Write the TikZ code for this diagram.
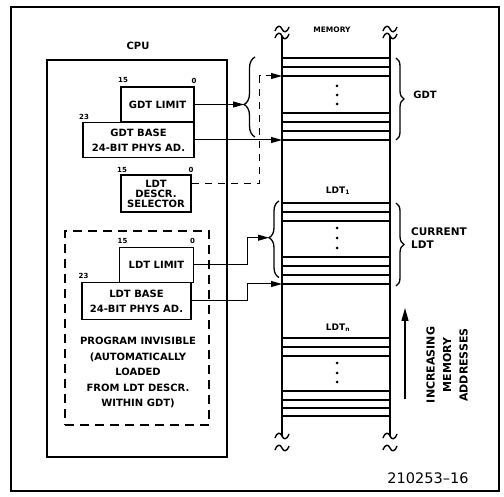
\documentclass[tikz,border=0pt]{standalone}
\usepackage{fontspec}
\setmainfont{DejaVu Sans}
\usetikzlibrary{arrows.meta,decorations.pathreplacing}
\tikzset{
  reg/.style={draw, line width=1.7pt, inner sep=0pt, align=center,
              font=\bfseries\fontsize{10}{15}\selectfont},
  bitno/.style={inner sep=0pt, font=\bfseries\fontsize{7}{7}\selectfont},
  lbl/.style={inner sep=0pt, align=center, font=\bfseries\fontsize{10}{12}\selectfont},
  ptr/.style={line width=1pt, -{Triangle[length=11pt,width=6pt]}},
  selptr/.style={ptr, dash pattern=on 7pt off 6pt},
  uparr/.style={line width=1.3pt, -{Triangle[length=13pt,width=7pt]}},
  memline/.style={line width=1.7pt},
  lbrace/.style={decorate, line width=1.3pt},
  wave/.pic={\draw[line width=1.4pt] (-7,2) .. controls (-4.5,-4.5) and (-1.5,-3.5) .. (0,0)
                 .. controls (1.5,3.5) and (4.5,4.5) .. (7,-2);},
}
\begin{document}
\begin{tikzpicture}[x=1pt, y=-1pt]
  \useasboundingbox (0,0) rectangle (504,497);
  % frame and cpu
  \draw[line width=1.6pt] (11,7) rectangle (499,491);
  \node[draw, line width=1.7pt, minimum width=180, minimum height=397] (cpu) at (137,258.5) {};
  \node[lbl] (cpulbl) at (138,46) {CPU};
  \node[draw, line width=1.3pt, dash pattern=on 9pt off 6pt,
        minimum width=144, minimum height=194] (invis) at (137,328) {};
  % registers
  \node[reg, minimum width=73, minimum height=35]  (gdtlim)  at (157.5,104.5) {GDT LIMIT};
  \node[reg, minimum width=111, minimum height=35] (gdtbase) at (138.5,140) {GDT BASE\\24-BIT PHYS AD.};
  \node[reg, minimum width=70, minimum height=37, font=\bfseries\fontsize{10}{10}\selectfont]
        (seldesc) at (156,193.5) {LDT\\DESCR.\\SELECTOR};
  \node[reg, minimum width=74, minimum height=35]  (ldtlim)  at (156.5,265) {LDT LIMIT};
  \node[reg, minimum width=109, minimum height=37] (ldtbase) at (136.5,301) {LDT BASE\\24-BIT PHYS AD.};
  \node[lbl, font=\bfseries\fontsize{10}{15.5}\selectfont] (invislbl) at (138,372.5)
        {PROGRAM INVISIBLE\\(AUTOMATICALLY\\LOADED\\FROM LDT DESCR.\\WITHIN GDT)};
  % bit numbers
  \node[bitno] (g15) at (123,80) {15};
  \node[bitno] (g0)  at (194,80.5) {0};
  \node[bitno] (g23) at (84,116.5) {23};
  \node[bitno] (s15) at (122,169.5) {15};
  \node[bitno] (s0)  at (191,170) {0};
  \node[bitno] (l15) at (122.5,241) {15};
  \node[bitno] (l0)  at (192.5,241) {0};
  \node[bitno] (l23) at (83.5,276) {23};
  % memory column
  \node[lbl, font=\bfseries\fontsize{7.5}{9}\selectfont] (memlbl) at (332,30) {MEMORY};
  \draw[memline] (282,36) -- (282,436);
  \draw[memline] (390,36) -- (390,436);
  \foreach \y in {58,67,76,113,122,131,140,203,212,221,257,266,275,284,338,347,356,391,400,408,416}
    \draw[memline] (282,\y) -- (390,\y);
  \foreach \y in {86,95,104,228,238,248,363,373,382}
    \fill (337,\y) circle (1.5pt);
  \foreach \x in {282,390} {
    \pic at (\x,29) {wave};
    \pic at (\x,36) {wave};
    \pic at (\x,436) {wave};
    \pic at (\x,448) {wave};
  }
  \node[lbl, font=\bfseries\fontsize{9}{10}\selectfont] (ldt1) at (338,191) {LDT\textsubscript{1}};
  \node[lbl, font=\bfseries\fontsize{9}{10}\selectfont] (ldtn) at (338,328) {LDT\textsubscript{n}};
  % braces
  \draw[lbrace, decoration={brace, amplitude=11pt, aspect=0.406}] (255,137) -- (255,57);
  \draw[lbrace, decoration={brace, amplitude=10pt, aspect=0.52}] (279,277.5) -- (279,201);
  \draw[lbrace, decoration={brace, amplitude=8pt}] (396,58) -- (396,140);
  \draw[lbrace, decoration={brace, amplitude=8pt}] (396,203) -- (396,286);
  \node[lbl] (gdtlbl) at (425,95) {GDT};
  \node[lbl, anchor=west, align=left, font=\bfseries\fontsize{10.5}{13}\selectfont]
        (curlbl) at (411,238.5) {CURRENT\\LDT};
  % pointer targets
  \coordinate (gdttip)  at (244,104.5);
  \coordinate (gdtbot)  at (282,140);
  \coordinate (gdtdesc) at (282,76);
  \coordinate (ldttip)  at (269,237.7);
  \coordinate (ldtbot)  at (282,284);
  % pointers
  \draw[ptr]    (gdtlim.east)  -- (gdttip);
  \draw[ptr]    (gdtbase.east) -- (gdtbot);
  \draw[selptr] (seldesc.15)   -- ++(68,0) |- (gdtdesc);
  \draw[ptr]    (ldtlim.east)  -- ++(53,0) |- (ldttip);
  \draw[ptr]    (ldtbase.east) -- ++(56,0) |- (ldtbot);
  % address direction
  \coordinate (incbot) at (405,399);
  \coordinate (inctop) at (405,308);
  \draw[uparr] (incbot) -- (inctop);
  \node[lbl, rotate=90, font=\bfseries\fontsize{11}{16.5}\selectfont] (inclbl) at (447,365)
        {INCREASING\\MEMORY\\ADDRESSES};
  \node[inner sep=0pt, font=\fontsize{14.5}{15}\selectfont] (fignum) at (428,478) {210253--16};
\end{tikzpicture}
\end{document}
